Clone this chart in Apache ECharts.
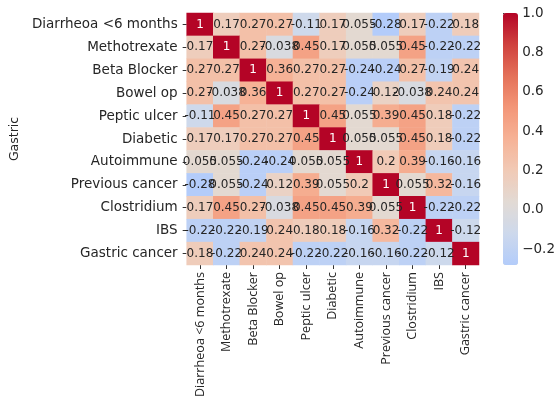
<!DOCTYPE html>
<html>
<head>
<meta charset="utf-8">
<script src="https://cdn.jsdelivr.net/npm/echarts@6/dist/echarts.min.js"></script>
<style>
  html, body { margin: 0; padding: 0; background: #ffffff; }
  #chart { width: 558px; height: 403px; }
</style>
</head>
<body>
<div id="chart"></div>
<script>
// Variables in the correlation matrix (same order on both axes)
const categories = [
  'Diarrheoa <6 months', 'Methotrexate', 'Beta Blocker', 'Bowel op',
  'Peptic ulcer', 'Diabetic', 'Autoimmune', 'Previous cancer',
  'Clostridium', 'IBS', 'Gastric cancer'
];

// Pairwise correlations, one row per variable
const rowDiarrheoa   = [1, 0.17, 0.27, 0.27, -0.11, 0.17, 0.055, -0.28, 0.17, -0.22, 0.18];
const rowMethotrexate= [0.17, 1, 0.27, -0.038, 0.45, 0.17, 0.055, 0.055, 0.45, -0.22, -0.22];
const rowBetaBlocker = [0.27, 0.27, 1, 0.36, 0.27, 0.27, -0.24, -0.24, 0.27, -0.19, 0.24];
const rowBowelOp     = [0.27, -0.038, 0.36, 1, 0.27, 0.27, -0.24, 0.12, -0.038, 0.24, 0.24];
const rowPepticUlcer = [-0.11, 0.45, 0.27, 0.27, 1, 0.45, 0.055, 0.39, 0.45, 0.18, -0.22];
const rowDiabetic    = [0.17, 0.17, 0.27, 0.27, 0.45, 1, 0.055, 0.055, 0.45, 0.18, -0.22];
const rowAutoimmune  = [0.055, 0.055, -0.24, -0.24, 0.055, 0.055, 1, 0.2, 0.39, -0.16, -0.16];
const rowPrevCancer  = [-0.28, 0.055, -0.24, 0.12, 0.39, 0.055, 0.2, 1, 0.055, 0.32, -0.16];
const rowClostridium = [0.17, 0.45, 0.27, -0.038, 0.45, 0.45, 0.39, 0.055, 1, -0.22, -0.22];
const rowIBS         = [-0.22, -0.22, -0.19, 0.24, 0.18, 0.18, -0.16, 0.32, -0.22, 1, -0.12];
const rowGastric     = [0.18, -0.22, 0.24, 0.24, -0.22, -0.22, -0.16, -0.16, -0.22, -0.12, 1];

const matrix = [
  rowDiarrheoa, rowMethotrexate, rowBetaBlocker, rowBowelOp, rowPepticUlcer,
  rowDiabetic, rowAutoimmune, rowPrevCancer, rowClostridium, rowIBS, rowGastric
];

// Colour bar range and its labelled span
const colorMin = -0.28;
const colorMax = 1.0;
const colorTickMin = -0.2;
const colorTickStep = 0.2;

// coolwarm, centred on zero, sampled evenly over [colorMin, colorMax]
const coolwarmStops = [
  'rgb(179,204,250)', 'rgb(205,217,236)', 'rgb(226,218,212)',
  'rgb(241,202,182)', 'rgb(246,178,150)', 'rgb(243,150,120)',
  'rgb(228,113,89)',  'rgb(207,65,62)',   'rgb(180,4,38)'
];

// annotation text like "%.2g"
function fmt(v) {
  return String(Number(v.toPrecision(2)));
}

const cells = [];
matrix.forEach(function (row, r) {
  row.forEach(function (v, c) {
    cells.push({
      value: [c, r, v],
      label: { color: v > 0.8 ? '#ffffff' : '#262626' }
    });
  });
});

const textColor = '#262626';
const gridLeft = 184, gridTop = 13, gridW = 295, gridH = 252;
const barLeft = 503, barW = 15;
// the tick axis covers only [colorTickMin, colorMax] of the bar
const tickAxisH = gridH * (colorMax - colorTickMin) / (colorMax - colorMin);

const chart = echarts.init(document.getElementById('chart'));
chart.setOption({
  backgroundColor: '#ffffff',
  animation: false,
  grid: [
    { left: gridLeft, top: gridTop, width: gridW, height: gridH },
    { left: barLeft, top: gridTop, width: barW, height: tickAxisH }
  ],
  xAxis: [
    {
      type: 'category', gridIndex: 0, data: categories,
      position: 'bottom',
      axisLine: { show: false },
      axisTick: { show: true, alignWithLabel: true, length: 4, lineStyle: { color: '#333' } },
      axisLabel: {
        rotate: 90, interval: 0, margin: 7,
        fontFamily: 'Open Sans', fontSize: 12.6, color: textColor
      },
      splitLine: { show: false }
    },
    {
      type: 'value', gridIndex: 1, show: false, min: 0, max: 1
    }
  ],
  yAxis: [
    {
      type: 'category', gridIndex: 0, data: categories, inverse: true,
      name: 'Gastric', nameLocation: 'middle', nameGap: 163, nameRotate: 90,
      nameTextStyle: { fontFamily: 'DejaVu Sans', fontSize: 12.5, color: textColor },
      axisLine: { show: false },
      axisTick: { show: true, alignWithLabel: true, length: 4, lineStyle: { color: '#333' } },
      axisLabel: {
        interval: 0, margin: 9,
        fontFamily: 'DejaVu Sans', fontSize: 13.5, color: textColor
      },
      splitLine: { show: false }
    },
    {
      type: 'value', gridIndex: 1, position: 'right',
      min: colorTickMin, max: colorMax, interval: colorTickStep,
      axisLine: { show: false },
      splitLine: { show: false },
      axisTick: { show: true, length: 4, lineStyle: { color: '#333' } },
      axisLabel: {
        margin: 6,
        fontFamily: 'DejaVu Sans', fontSize: 13.5, color: textColor,
        formatter: function (v) {
          const s = Math.abs(v).toFixed(1);
          return v < -1e-9 ? '\u2212' + s : s;
        }
      }
    }
  ],
  visualMap: {
    type: 'continuous',
    min: colorMin, max: colorMax,
    seriesIndex: 0,
    orient: 'vertical',
    left: barLeft, top: gridTop,
    itemWidth: barW, itemHeight: gridH,
    padding: 0,
    calculable: false,
    hoverLink: false,
    text: null,
    showLabel: false,
    inRange: { color: coolwarmStops }
  },
  series: [
    {
      type: 'heatmap',
      xAxisIndex: 0, yAxisIndex: 0,
      data: cells,
      itemStyle: { borderWidth: 0 },
      label: {
        show: true,
        fontFamily: 'DejaVu Sans', fontSize: 12,
        formatter: function (p) { return fmt(p.value[2]); }
      },
      emphasis: { disabled: true }
    }
  ]
});
</script>
</body>
</html>
